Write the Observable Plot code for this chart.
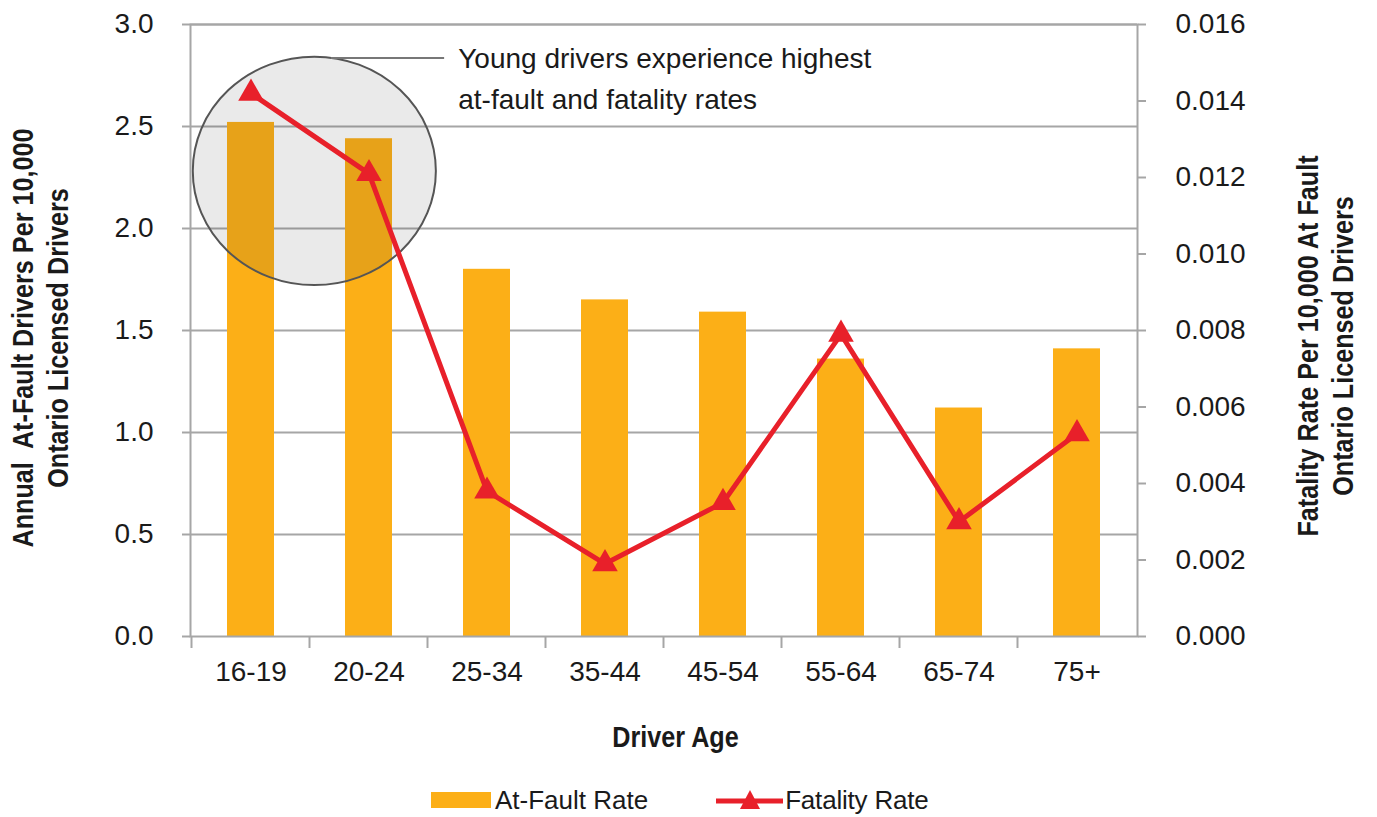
<!DOCTYPE html>
<html>
<head>
<meta charset="utf-8">
<script src="https://cdn.jsdelivr.net/npm/d3@7"></script>
<script src="https://cdn.jsdelivr.net/npm/@observablehq/plot@0.6"></script>
<style>
  body { margin: 0; background: #fff; }
  #wrap { position: relative; width: 1377px; height: 817px; overflow: hidden; font-family: "Liberation Sans", Arial, sans-serif; }
  #legend { position: absolute; left: 431px; top: 784px; height: 32px; display: flex; align-items: center; font-size: 26px; color: #1a1a1a; }
  #legend .sw { width: 60px; height: 16px; background: #FCAF17; margin-right: 4px; }
  #legend .gap { width: 68px; }
</style>
</head>
<body>
<div id="wrap">
  <div id="chart"></div>
  <div id="legend">
    <div class="sw"></div><span>At-Fault Rate</span>
    <div class="gap"></div>
    <svg width="67" height="26" viewBox="0 0 67 26" style="margin-right:2px">
      <line x1="0" y1="14" x2="67" y2="14" stroke="#E8202A" stroke-width="5"></line>
      <path d="M34,3 L44,22 L24,22 Z" fill="#E8202A"></path>
    </svg><span style="letter-spacing:-0.2px">Fatality Rate</span>
  </div>
</div>
<script>
const ages = ["16-19", "20-24", "25-34", "35-44", "45-54", "55-64", "65-74", "75+"];
const atFaultRate = [2.52, 2.44, 1.80, 1.65, 1.59, 1.36, 1.12, 1.41];
const fatalityRate = [0.0142, 0.0121, 0.0038, 0.0019, 0.0035, 0.0079, 0.0030, 0.0053];
const leftTicks = [0, 0.5, 1.0, 1.5, 2.0, 2.5, 3.0];
const rightTicks = [0, 0.002, 0.004, 0.006, 0.008, 0.010, 0.012, 0.014, 0.016];
const leftTitle = ["Annual  At-Fault Drivers Per 10,000", "Ontario Licensed Drivers"];
const rightTitle = ["Fatality Rate Per 10,000 At Fault", "Ontario Licensed Drivers"];
const xTitle = "Driver Age";
const noteLines = ["Young drivers experience highest", "at-fault and fatality rates"];

const k = 3.0 / 0.016; // right axis -> left axis units
const data = ages.map((a, i) => ({age: a, atFault: atFaultRate[i], fatality: fatalityRate[i]}));

const regular = "'Liberation Sans', Arial, sans-serif";
const gridColor = "#a6a6a6";
const textColor = "#1a1a1a";
const narrowScale = 0.84;

function annotation(index, scales) {
  const {x, y} = scales;
  const x0 = x(ages[0]);
  const step = x(ages[1]) - x(ages[0]);
  const g = d3.create("svg:g");
  g.append("ellipse")
    .attr("cx", x0 + step * 0.74).attr("cy", y(2.28))
    .attr("rx", step * 1.03).attr("ry", y(0) - y(0.56))
    .attr("fill", "#303030").attr("fill-opacity", 0.1)
    .attr("stroke", "#555").attr("stroke-width", 2);
  g.append("line")
    .attr("x1", x0 + step * 0.88).attr("x2", x0 + step * 1.84)
    .attr("y1", y(2.833)).attr("y2", y(2.833))
    .attr("stroke", "#777").attr("stroke-width", 2);
  const tx = x0 + step * 1.96;
  const t = g.append("text")
    .attr("x", tx).attr("y", y(2.785))
    .attr("text-anchor", "start")
    .attr("font-family", regular).attr("font-size", 28).attr("fill", textColor);
  noteLines.forEach((s, i) => t.append("tspan").attr("x", tx).attr("dy", i ? 41 : 0).text(s));
  return g.node();
}

function bottomTicks(index, scales) {
  const {x, y} = scales;
  const step = x(ages[1]) - x(ages[0]);
  const bw = x.bandwidth ? x.bandwidth() : step * 0.4;
  const g = d3.create("svg:g").attr("stroke", gridColor).attr("stroke-width", 2);
  ages.forEach(a => {
    const xb = x(a) - (step - bw) / 2;
    g.append("line").attr("x1", xb).attr("x2", xb).attr("y1", y(0)).attr("y2", y(0) + 12);
  });
  return g.node();
}

// bold condensed titles (narrow face emulated by horizontal scaling)
function titles(index, scales, values, dims) {
  const {width, height, marginLeft, marginRight, marginTop, marginBottom} = dims;
  const left = marginLeft, right = width - marginRight, bottom = height - marginBottom;
  const g = d3.create("svg:g")
    .attr("font-family", regular).attr("font-weight", "bold")
    .attr("font-size", 30).attr("fill", textColor).attr("text-anchor", "middle");
  const rotated = (lines, cx, cy) => {
    const t = g.append("text")
      .attr("transform", `translate(${cx},${cy}) rotate(-90) scale(${narrowScale},1)`);
    lines.forEach((s, i) => t.append("tspan").attr("x", 0).attr("y", -11 + i * 35).text(s));
  };
  rotated(leftTitle, left - 146, (marginTop + bottom) / 2 + 8);
  rotated(rightTitle, right + 192, (marginTop + bottom) / 2 + 16);
  g.append("text")
    .attr("transform", `translate(${(left + right) / 2 + 12},${bottom + 111}) scale(${narrowScale},1)`)
    .text(xTitle);
  return g.node();
}

const chart = Plot.plot({
  width: 1377,
  height: 760,
  marginLeft: 190,
  marginRight: 240,
  marginTop: 24,
  marginBottom: 124,
  style: {fontFamily: regular, color: textColor, background: "#fff"},
  x: {domain: ages, paddingInner: 0.6, paddingOuter: 0.3, label: null},
  y: {domain: [0, 3], label: null},
  marks: [
    Plot.ruleY(leftTicks.slice(1), {stroke: gridColor, strokeWidth: 2}),
    Plot.barY(data, {x: "age", y: "atFault", fill: "#FCAF17"}),
    annotation,
    Plot.lineY(data, {x: "age", y: d => d.fatality * k, stroke: "#E8202A", strokeWidth: 5}),
    Plot.dot(data, {x: "age", y: d => d.fatality * k, symbol: "triangle", r: 9.5, fill: "#E8202A"}),
    Plot.frame({stroke: gridColor, strokeWidth: 2}),
    bottomTicks,
    Plot.axisY(leftTicks, {anchor: "left", tickFormat: d3.format(".1f"), tickSize: 8, tickPadding: 29, fontSize: 28, stroke: gridColor, strokeWidth: 2, label: null}),
    Plot.axisY(rightTicks.map(v => v * k), {anchor: "right", tickFormat: d => (d / k).toFixed(3), tickSize: 8, tickPadding: 30, fontSize: 28, stroke: gridColor, strokeWidth: 2, label: null}),
    Plot.axisX({anchor: "bottom", tickSize: 0, tickPadding: 25, fontSize: 28, label: null}),
    titles
  ]
});
document.getElementById("chart").appendChild(chart);
</script>
</body>
</html>
